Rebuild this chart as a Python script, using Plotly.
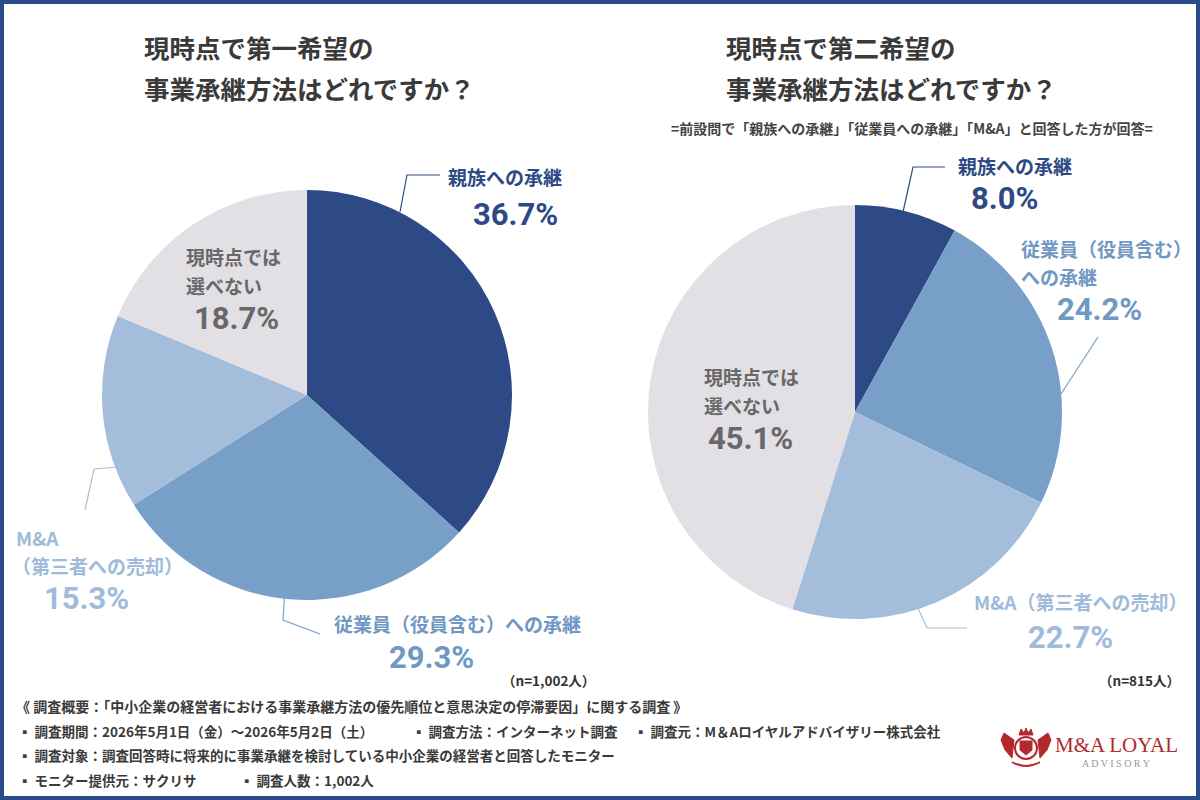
import plotly.graph_objects as go

W, H = 1200, 800

# ---------------- data ----------------
categories = ["親族への承継", "従業員（役員含む）への承継", "M&A（第三者への売却）", "現時点では選べない"]
first_choice = [36.7, 29.3, 15.3, 18.7]      # 現時点で第一希望
second_choice = [8.0, 24.2, 22.7, 45.1]      # 現時点で第二希望
n_first = "（n=1,002人）"
n_second = "（n=815人）"
title_first = ["現時点で第一希望の", "事業承継方法はどれですか？"]
title_second = ["現時点で第二希望の", "事業承継方法はどれですか？"]
subtitle_second = "=前設問で「親族への承継」「従業員への承継」「M&A」と回答した方が回答="
# label line-splitting used for each pie
label_lines_first = [["親族への承継"], ["従業員（役員含む）への承継"], ["M&A", "（第三者への売却）"], ["現時点では", "選べない"]]
label_lines_second = [["親族への承継"], ["従業員（役員含む）", "への承継"], ["M&A（第三者への売却）"], ["現時点では", "選べない"]]
footer_lines = [
    [("《 調査概要：「中小企業の経営者における事業承継方法の優先順位と意思決定の停滞要因」に関する調査 》", 14)],
    [("▪ 調査期間：2026年5月1日（金）～2026年5月2日（土）", 16), ("▪ 調査方法：インターネット調査", 410), ("▪ 調査元：M＆Aロイヤルアドバイザリー株式会社", 632)],
    [("▪ 調査対象：調査回答時に将来的に事業承継を検討している中小企業の経営者と回答したモニター", 16)],
    [("▪ モニター提供元：サクリサ", 16), ("▪ 調査人数：1,002人", 238)],
]
footer_sizes = [14, 13.5, 13.5, 13.5]

# ---------------- style ----------------
slice_colors = ["#2e4a86", "#789fc7", "#a3bddb", "#e2e0e4"]
text_colors = ["#2e4a86", "#6f98c3", "#9fbbd9", "#686868"]
line_colors = ["#2e4a86", "#7aa0c8", "#a9bfd8", "#686868"]
JP = "Noto Sans CJK JP, Noto Sans, sans-serif"
NUM = "Roboto, sans-serif"
BORDER = "#2c4b8c"


def px(x):
    return x / W


def py(y):
    return 1 - y / H


fig = go.Figure()


def add_pie(values, cx, cy, r):
    fig.add_trace(go.Pie(
        labels=categories, values=values, sort=False, direction="clockwise", rotation=0,
        marker=dict(colors=slice_colors, line=dict(width=0)),
        textinfo="none", hoverinfo="skip", showlegend=False,
        domain=dict(x=[px(cx - r), px(cx + r)], y=[py(cy + r), py(cy - r)]),
    ))


add_pie(first_choice, 307, 395, 205)
add_pie(second_choice, 855, 412, 207)

anns = []


def ann(text, x, y, size, color, xanchor="center", family=JP, weight="bold"):
    anns.append(dict(text=text, x=px(x), y=py(y), xref="paper", yref="paper",
                     xanchor=xanchor, yanchor="middle", showarrow=False,
                     font=dict(family=family, size=size, color=color, weight=weight)))


def pct(v):
    return f"{v:.1f}%"


PS = 31  # percent font size

# titles
for i, t in enumerate(title_first):
    ann(t, 142, 46 + 42 * i, 25.5, "#3a3a3a", "left")
for i, t in enumerate(title_second):
    ann(t, 724, 46 + 42 * i, 25.5, "#3a3a3a", "left")
ann(subtitle_second, 912, 128, 14, "#444444")

# ---- left pie labels ----
L = label_lines_first
ann(L[0][0], 505, 177, 19, text_colors[0])
ann(pct(first_choice[0]), 515, 214, PS, text_colors[0], family=NUM)
ann(L[1][0], 457, 623, 19, text_colors[1])
ann(pct(first_choice[1]), 431, 657, PS, text_colors[1], family=NUM)
ann(L[2][0], 14, 537, 19, text_colors[2], "left")
ann(L[2][1], 10, 565, 19, text_colors[2], "left")
ann(pct(first_choice[2]), 86, 598, PS, text_colors[2], family=NUM)
ann(L[3][0], 184, 256, 19, text_colors[3], "left")
ann(L[3][1], 184, 286, 19, text_colors[3], "left")
ann(pct(first_choice[3]), 236, 319, PS, text_colors[3], family=NUM)
ann(n_first, 597, 680, 13.5, "#333333", "right")

# ---- right pie labels ----
R = label_lines_second
ann(R[0][0], 1015, 165, 19, text_colors[0])
ann(pct(second_choice[0]), 1004, 198, PS, text_colors[0], family=NUM)
ann(R[1][0], 1019, 248, 19, text_colors[1], "left")
ann(R[1][1], 1019, 276, 19, text_colors[1], "left")
ann(pct(second_choice[1]), 1099, 310, PS, text_colors[1], family=NUM)
ann(R[2][0], 972, 601, 19, text_colors[2], "left")
ann(pct(second_choice[2]), 1070, 637, PS, text_colors[2], family=NUM)
ann(R[3][0], 702, 376, 19, text_colors[3], "left")
ann(R[3][1], 702, 406, 19, text_colors[3], "left")
ann(pct(second_choice[3]), 750, 438, PS, text_colors[3], family=NUM)
ann(n_second, 1182, 680, 13.5, "#333333", "right")

# ---- footer ----
for i, line in enumerate(footer_lines):
    for text, x in line:
        ann(text, x, 706 + 24.5 * i, footer_sizes[i], "#3a3a3a", "left", weight="bold")

# ---- logo ----
ann("M&amp;A LOYAL", 1116, 745, 21, "#b3282d", family="Liberation Serif, DejaVu Serif, serif", weight="normal")
ann("A D V I S O R Y", 1116, 763, 10, "#9a9a9a", family="Liberation Serif, DejaVu Serif, serif", weight="normal")

shapes = []


def path(points, color, width=1.2):
    d = "M " + " L ".join(f"{px(x)},{py(y)}" for x, y in points)
    shapes.append(dict(type="path", path=d, xref="paper", yref="paper",
                       line=dict(color=color, width=width)))


# leader lines
path([(400, 212), (407, 175), (440, 175)], line_colors[0])
path([(85, 510), (94, 469), (117, 467)], line_colors[2])
path([(285, 588), (283, 620), (320, 634)], line_colors[1])
path([(903, 212), (913, 167), (945, 167)], line_colors[0])
path([(1098, 337), (1061, 394)], line_colors[1])
path([(917, 606), (927, 628), (967, 628)], line_colors[2])

# simple crest for the logo
crest = "#b3282d"
shapes.append(dict(type="circle", xref="paper", yref="paper",
                   x0=px(1015), x1=px(1037), y0=py(759), y1=py(737),
                   line=dict(color=crest, width=2), fillcolor="#ffffff"))
shapes.append(dict(type="path", xref="paper", yref="paper",
                   path=f"M {px(1020)},{py(741)} L {px(1032)},{py(741)} L {px(1032)},{py(750)} L {px(1026)},{py(755)} L {px(1020)},{py(750)} Z",
                   line=dict(color=crest, width=1), fillcolor=crest))
shapes.append(dict(type="path", xref="paper", yref="paper",
                   path=f"M {px(1019)},{py(735)} L {px(1021)},{py(729)} L {px(1024)},{py(733)} L {px(1026)},{py(728)} L {px(1028)},{py(733)} L {px(1031)},{py(729)} L {px(1033)},{py(735)} Z",
                   line=dict(color=crest, width=1), fillcolor=crest))
for side in (-1, 1):
    cx = 1026
    pts = [(cx + side * 12, 740), (cx + side * 22, 733), (cx + side * 25, 740), (cx + side * 21, 750), (cx + side * 14, 758)]
    d = "M " + " L ".join(f"{px(x)},{py(y)}" for x, y in pts) + " Z"
    shapes.append(dict(type="path", xref="paper", yref="paper", path=d,
                       line=dict(color=crest, width=1), fillcolor=crest))
shapes.append(dict(type="path", xref="paper", yref="paper",
                   path=f"M {px(1012)},{py(762)} Q {px(1026)},{py(770)} {px(1040)},{py(762)}",
                   line=dict(color=crest, width=2)))

# frame
shapes.append(dict(type="rect", xref="paper", yref="paper", x0=0, x1=1, y0=0, y1=1,
                   line=dict(color=BORDER, width=8), fillcolor="rgba(0,0,0,0)"))

fig.update_layout(
    width=W, height=H, margin=dict(l=0, r=0, t=0, b=0),
    paper_bgcolor="#ffffff", plot_bgcolor="#ffffff",
    annotations=anns, shapes=shapes,
)

fig.write_html("out.html")
